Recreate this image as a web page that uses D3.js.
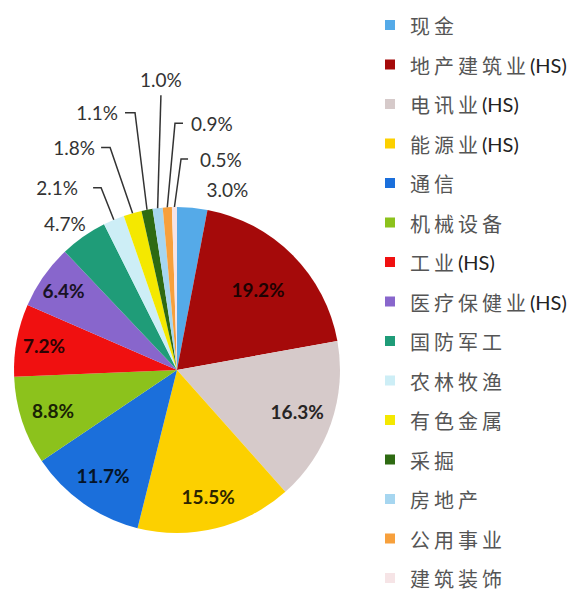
<!DOCTYPE html>
<html><head><meta charset="utf-8">
<script src="https://cdn.jsdelivr.net/npm/d3@7/dist/d3.min.js"></script>
<style>body{margin:0;background:#fff}svg{display:block}</style>
</head><body><svg id="c" width="568" height="592"></svg>
<script>
// ---- data ----
const categories = ["现金","地产建筑业(HS)","电讯业(HS)","能源业(HS)","通信","机械设备","工业(HS)","医疗保健业(HS)","国防军工","农林牧渔","有色金属","采掘","房地产","公用事业","建筑装饰"];
const values = [3.0,19.2,16.3,15.5,11.7,8.8,7.2,6.4,4.7,2.1,1.8,1.1,1.0,0.9,0.5];
const valueLabels = ["3.0%","19.2%","16.3%","15.5%","11.7%","8.8%","7.2%","6.4%","4.7%","2.1%","1.8%","1.1%","1.0%","0.9%","0.5%"];
const colors = ["#55aae8","#a50a0a","#d6caca","#fcd000","#1b6fdb","#8cc21c","#f01010","#8866cc","#1f9c78","#cdeef6","#f4e800","#2e6a12","#a6d6f0","#f7a03c","#f6e4e6"];

// ---- layout ----
const cx = 177, cy = 370, R = 163;
const insideIdx = [1,2,3,4,5,6,7];
const insideRadius = [0,0.7,0.78,0.8,0.79,0.8,0.83,0.85];
// plain outside labels: offset from outer edge point
const plainOut = {0:[35,-18], 8:[-18.5,-13]};
// leader labels: elbow offset from edge point, horizontal length, gap
const leaders = {
  9:{ex:-12.7,ey:-32,h:-8,gap:15},
  10:{ex:-22.5,ey:-65.6,h:-9,gap:6},
  11:{ex:-12,ey:-97,h:-10,gap:7},
  12:{ex:3.3,ey:-113,h:0,gap:16},
  13:{ex:7.7,ey:-84,h:8,gap:8},
  14:{ex:6.6,ey:-48,h:7,gap:12}
};

const svg = d3.select("#c");
const g = svg.append("g").attr("transform",`translate(${cx},${cy})`);
const pie = d3.pie().sort(null).value(d=>d).startAngle(0).endAngle(2*Math.PI);
const arcs = pie(values);
const arc = d3.arc().innerRadius(0).outerRadius(R);
const edge = d3.arc().innerRadius(R).outerRadius(R);

g.selectAll("path.s").data(arcs).join("path").attr("class","s")
  .attr("d",arc).attr("fill",(d,i)=>colors[i]);

const labelFont = "Lato, 'Open Sans', sans-serif";
// inside labels
insideIdx.forEach(i=>{
  const a = d3.arc().innerRadius(R*insideRadius[i]).outerRadius(R*insideRadius[i]);
  const [x,y] = a.centroid(arcs[i]);
  g.append("text").attr("x",x).attr("y",y).attr("text-anchor","middle")
   .attr("dominant-baseline","central").attr("font-family",labelFont)
   .attr("font-size",19).attr("font-weight",700)
   .attr("fill",d3.interpolateRgb(colors[i],"#000")(0.82))
   .text(valueLabels[i]);
});
// plain outside
Object.keys(plainOut).forEach(k=>{
  const i=+k; const [x,y]=edge.centroid(arcs[i]);
  g.append("text").attr("x",x+plainOut[k][0]).attr("y",y+plainOut[k][1])
   .attr("text-anchor","middle").attr("dominant-baseline","central")
   .attr("font-family",labelFont).attr("font-size",19).attr("fill","#333")
   .text(valueLabels[i]);
});
// leader labels
Object.keys(leaders).forEach(k=>{
  const i=+k, L=leaders[k]; const [px,py]=edge.centroid(arcs[i]);
  const ex=px+L.ex, ey=py+L.ey, hx=ex+L.h;
  g.append("path").attr("d",d3.line()([[px,py],[ex,ey],[hx,ey]]))
   .attr("fill","none").attr("stroke","#333").attr("stroke-width",1.5);
  let tx, ty=ey, anchor;
  if(L.h<0){tx=hx-L.gap;anchor="end";}
  else if(L.h>0){tx=hx+L.gap;anchor="start";}
  else {tx=ex; ty=ey-L.gap; anchor="middle";}
  g.append("text").attr("x",tx).attr("y",ty).attr("text-anchor",anchor)
   .attr("dominant-baseline","central").attr("font-family",labelFont)
   .attr("font-size",19).attr("fill","#333").text(valueLabels[i]);
});

// legend
const lg = svg.append("g");
const ly = d3.scalePoint().domain(d3.range(categories.length)).range([25,578]);
categories.forEach((c,i)=>{
  const y = ly(i);
  lg.append("rect").attr("x",385).attr("y",y-5).attr("width",10).attr("height",10).attr("fill",colors[i]);
  const t = lg.append("text").attr("x",410).attr("y",y).attr("dominant-baseline","central")
    .attr("font-size",20).attr("fill","#444");
  const m = c.match(/^([^()]+)(\(.*\))?$/);
  t.append("tspan").attr("font-family","'Noto Sans CJK SC', sans-serif").attr("letter-spacing",4).attr("fill","#555").text(m[1]);
  if(m[2]) t.append("tspan").attr("font-family",labelFont).attr("fill","#222").text(m[2]);
});
</script></body></html>
